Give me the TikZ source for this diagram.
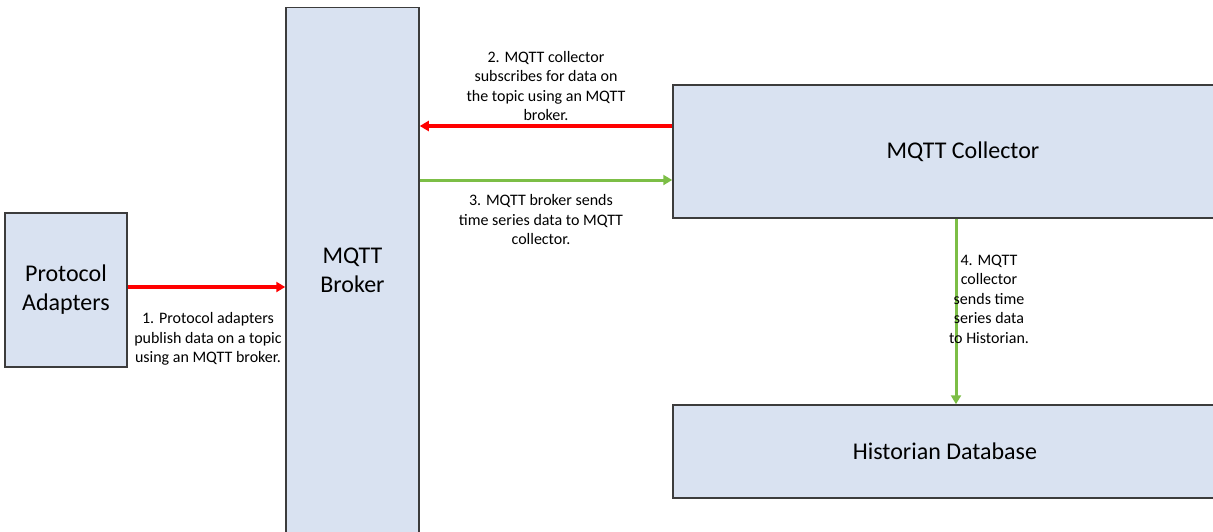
\documentclass[tikz,border=0pt]{standalone}
\usepackage{fontspec}
\setmainfont{Carlito}
\usetikzlibrary{arrows.meta}
\definecolor{boxfill}{RGB}{217,226,241}
\definecolor{boxline}{RGB}{60,60,60}
\definecolor{redline}{RGB}{255,0,0}
\definecolor{greenline}{RGB}{124,190,70}
\begin{document}
\begin{tikzpicture}[x=1pt,y=-1pt,
  blk/.style={draw=boxline,fill=boxfill,line width=1.5pt,inner sep=0pt,font=\fontsize{24}{29}\selectfont,align=center},
  lbl/.style={font=\fontsize{16}{19.5}\selectfont,align=center,inner sep=0pt},
  redarr/.style={draw=redline,line width=3.5pt,-{Triangle[length=9pt,width=10pt]}},
  greenarr/.style={draw=greenline,line width=3pt,-{Triangle[length=9pt,width=10pt]}}]
\useasboundingbox (0,0) rectangle (1213,531);
\clip (0,0) rectangle (1213,531);
\node[blk,minimum width=122pt,minimum height=154pt] (pa) at (66,290) {Protocol\\Adapters};
\node[blk,minimum width=133pt,minimum height=525pt] (br) at (352.5,270) {MQTT\\Broker};
\node[blk,minimum width=580pt,minimum height=133pt] (co) at (963,151.5) {MQTT Collector};
\node[blk,minimum width=544pt,minimum height=93pt] (hi) at (945,451.5) {Historian Database};
\coordinate (a1s) at (pa.east |- 0,287);
\coordinate (a1e) at (br.west |- 0,287);
\draw[redarr] (a1s) -- (a1e);
\coordinate (a2s) at (co.west |- 0,126);
\coordinate (a2e) at (br.east |- 0,126);
\draw[redarr] (a2s) -- (a2e);
\coordinate (a3s) at (br.east |- 0,180);
\coordinate (a3e) at (co.west |- 0,180);
\draw[greenarr] (a3s) -- (a3e);
\coordinate (a4s) at (co.south -| 956,0);
\coordinate (a4e) at (hi.north -| 956,0);
\draw[greenarr] (a4s) -- (a4e);
\node[lbl] (l1) at (208,339) {1. Protocol adapters\\publish data on a topic\\using an MQTT broker.};
\node[lbl] (l2) at (546,86) {2. MQTT collector\\subscribes for data on\\the topic using an MQTT\\broker.};
\node[lbl] (l3) at (541,220) {3. MQTT broker sends\\time series data to MQTT\\collector.};
\node[lbl] (l4) at (989,299) {4. MQTT\\collector\\sends time\\series data\\to Historian.};
\end{tikzpicture}
\end{document}
